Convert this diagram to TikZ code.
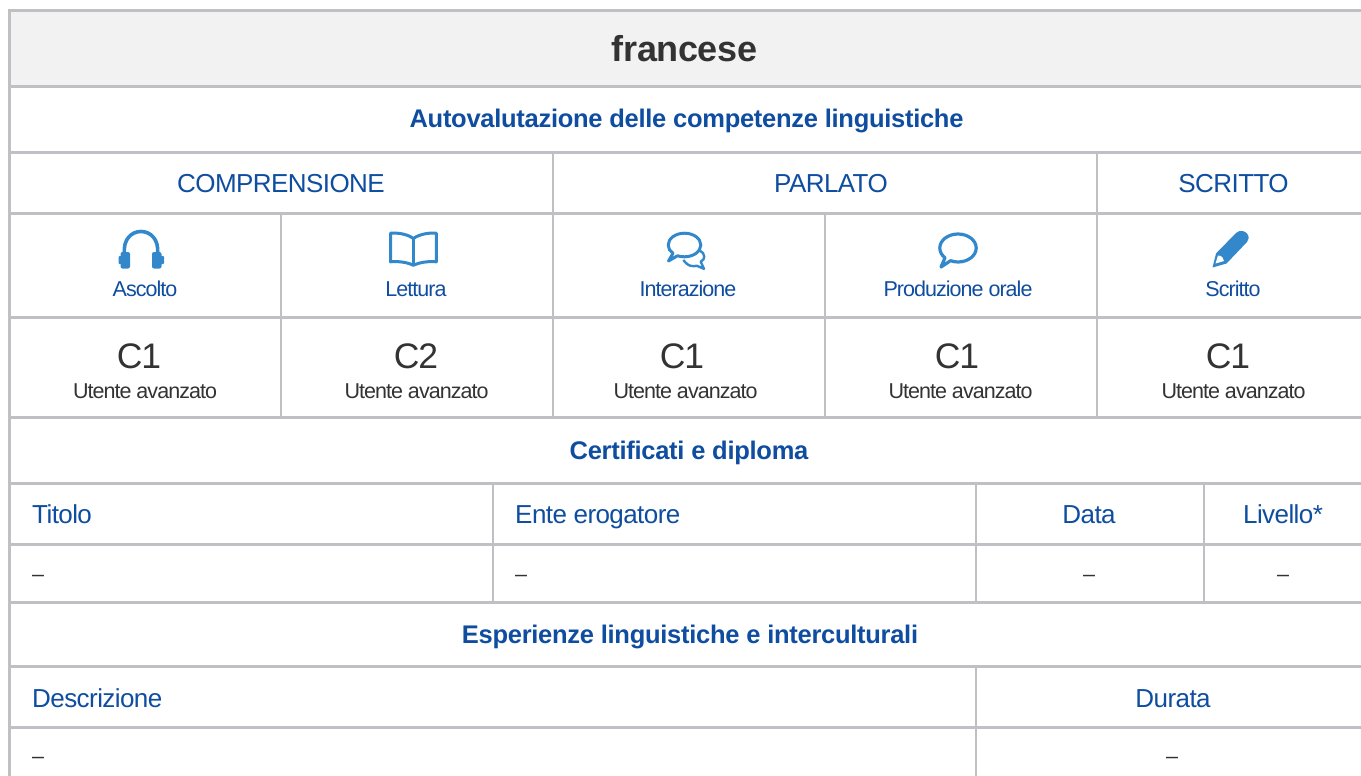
\documentclass[tikz,border=0pt]{standalone}
\usepackage{fontspec}
\setmainfont{Liberation Sans}
\newfontfamily\titlefont[LetterSpace=-1.2]{Liberation Sans}
\newfontfamily\sectfont[LetterSpace=-1.1]{Liberation Sans}
\newfontfamily\colfont[LetterSpace=-2.2]{Liberation Sans}
\newfontfamily\smallfont[LetterSpace=-4.5]{Liberation Sans}
\newfontfamily\levelfont[LetterSpace=-3]{Liberation Sans}
\definecolor{rule}{HTML}{BFC0C4}
\definecolor{head}{HTML}{F2F2F2}
\definecolor{dblue}{HTML}{0F4DA0}
\definecolor{iblue}{HTML}{3388CC}
\definecolor{ink}{HTML}{333333}
\tikzset{x=1pt,y=-1pt,
 grid/.style={draw=rule,line width=2.8pt},
 thin grid/.style={draw=rule,line width=2.4pt},
 base/.style={inner sep=0pt,anchor=base},
 baseleft/.style={inner sep=0pt,anchor=base west},
 titletext/.style={base,text=ink,font=\titlefont\bfseries\fontsize{36}{38}\selectfont},
 section/.style={base,text=dblue,font=\sectfont\bfseries\fontsize{25.5}{28}\selectfont},
 colhead/.style={base,text=dblue,font=\colfont\fontsize{26}{28}\selectfont},
 colheadleft/.style={colhead,anchor=base west},
 sublabel/.style={base,text=dblue,font=\smallfont\fontsize{21.5}{24}\selectfont},
 level/.style={base,text=ink,font=\levelfont\fontsize{35.5}{38}\selectfont},
 levelnote/.style={base,text=ink,font=\smallfont\fontsize{21.5}{24}\selectfont},
 emptyval/.style={base,text=ink,font=\smallfont\fontsize{21.5}{24}\selectfont},
 emptyvalleft/.style={emptyval,anchor=base west},
 icon/.style={draw=iblue,line width=3pt,fill=none,line join=round}}
\begin{document}
\begin{tikzpicture}
\useasboundingbox (0,0) rectangle (1361,776);
\fill[white] (0,0) rectangle (1361,776);
\fill[head] (9,10) rectangle (1361,86);
% grid
\foreach \y in {10.3,86.5,152.5,213.5,317.5,417.5,483.5,544.5,602.5,666.5,727.5}
  \draw[grid] (8,\y) -- (1361,\y);
\draw[grid] (9.5,8.9) -- (9.5,776);
\foreach \x in {553,1097} \draw[thin grid] (\x,152) -- (\x,417);
\foreach \x in {281,825} \draw[thin grid] (\x,213) -- (\x,417);
\foreach \x in {493,976,1204} \draw[thin grid] (\x,483) -- (\x,602);
\draw[thin grid] (976,666) -- (976,776);
% titles
\node[titletext] (title) at (684.5,62) {francese};
\node[section] (self) at (686.5,128) {Autovalutazione delle competenze linguistiche};
\node[colhead] (comp) at (281,192) {COMPRENSIONE};
\node[colhead] (parl) at (831,192) {PARLATO};
\node[colhead] (scri) at (1233.5,192) {SCRITTO};
% sub labels
\node[sublabel] (asc) at (145,296) {Ascolto};
\node[sublabel] (let) at (416,296) {Lettura};
\node[sublabel] (int) at (688,296) {Interazione};
\node[sublabel] (pro) at (958,296) {Produzione orale};
\node[sublabel] (scr) at (1233,296) {Scritto};
% levels
\node[level] (l1) at (139,368) {C1};
\node[level] (l2) at (416,368) {C2};
\node[level] (l3) at (682,368) {C1};
\node[level] (l4) at (957,368) {C1};
\node[level] (l5) at (1228,368) {C1};
\node[levelnote] (n1) at (145,398) {Utente avanzato};
\node[levelnote] (n2) at (416.5,398) {Utente avanzato};
\node[levelnote] (n3) at (685.5,398) {Utente avanzato};
\node[levelnote] (n4) at (960.5,398) {Utente avanzato};
\node[levelnote] (n5) at (1233.5,398) {Utente avanzato};
% certificates
\node[section] (cert) at (689,459) {Certificati e diploma};
\node[colheadleft] (tit) at (32,523) {Titolo};
\node[colheadleft] (ente) at (515,523) {Ente erogatore};
\node[colhead] (data) at (1089,523) {Data};
\node[colhead] (liv) at (1283,523) {Livello*};
\node[emptyvalleft] (d1) at (32,581) {–};
\node[emptyvalleft] (d2) at (515,581) {–};
\node[emptyval] (d3) at (1089,581) {–};
\node[emptyval] (d4) at (1283,581) {–};
% experience
\node[section] (esp) at (690,643) {Esperienze linguistiche e interculturali};
\node[colheadleft] (des) at (32,707) {Descrizione};
\node[colhead] (dur) at (1173,707) {Durata};
\node[emptyvalleft] (d5) at (32,763) {–};
\node[emptyval] (d6) at (1172,763) {–};
% headphones
\draw[icon,line width=3.6pt] (124.5,254) .. controls (121,224) and (161,224) .. (157.5,254);
\fill[iblue,rounded corners=2pt] (120.5,252) rectangle (130,268.5);
\fill[iblue,rounded corners=1pt] (118.5,256) rectangle (122,264);
\fill[iblue,rounded corners=2pt] (152,252) rectangle (161.5,268.5);
\fill[iblue,rounded corners=1pt] (160,256) rectangle (164,264);
% book
\draw[icon] (390.5,233.2) .. controls (399,232.5) and (408,234.5) .. (413.3,238.5) .. controls (419,234.5) and (428,232.5) .. (436.3,233.2) -- (436.3,261.8) .. controls (428,261) and (419,262.5) .. (413.3,265.3) .. controls (408,262.5) and (399,261) .. (390.5,261.8) -- cycle;
\draw[icon] (413.3,238.5) -- (413.3,265.3);
% two bubbles
\draw[icon,line width=2.4pt] (683.3,260) .. controls (686,263.5) and (689,266) .. (692,266) .. controls (694,266.3) and (695.5,266.2) .. (696.7,265.7) -- (704,268.8) -- (700.7,261.7) .. controls (703,260.5) and (704.3,258.7) .. (704.3,256.7) .. controls (704.3,254) and (702.5,252) .. (700,250.7);
\draw[icon] (673,253.3) .. controls (670,251.5) and (668.2,248.5) .. (668.2,245) .. controls (668.2,238.5) and (675.5,233.2) .. (684.5,233.2) .. controls (693.5,233.2) and (700.8,238.5) .. (700.8,245) .. controls (700.8,251.5) and (693.5,256.8) .. (684.5,256.8) .. controls (682,256.8) and (680,256.5) .. (677.5,255.8) -- (668.5,261) -- cycle;
% bubble
\draw[icon,line width=3.2pt] (945,257.8) .. controls (941.5,255) and (939.8,251.5) .. (939.8,248) .. controls (939.8,240.3) and (948,234) .. (958,234) .. controls (968,234) and (976.2,240.3) .. (976.2,248) .. controls (976.2,255.7) and (968,262) .. (958,262) .. controls (955.5,262) and (953,261.5) .. (950.5,260.7) -- (941,267) -- cycle;
% pencil
\fill[iblue] (1212.5,267.5) -- (1216,253.5) -- (1236,233) .. controls (1240,229.5) and (1245,231) .. (1247,233.5) .. controls (1249.5,236.5) and (1249,240) .. (1247,242) -- (1226.5,263.5) -- cycle;
\fill[white] (1215.5,263.5) -- (1218,255.5) .. controls (1221.5,255.5) and (1224,258) .. (1224,261) -- cycle;
\end{tikzpicture}
\end{document}
